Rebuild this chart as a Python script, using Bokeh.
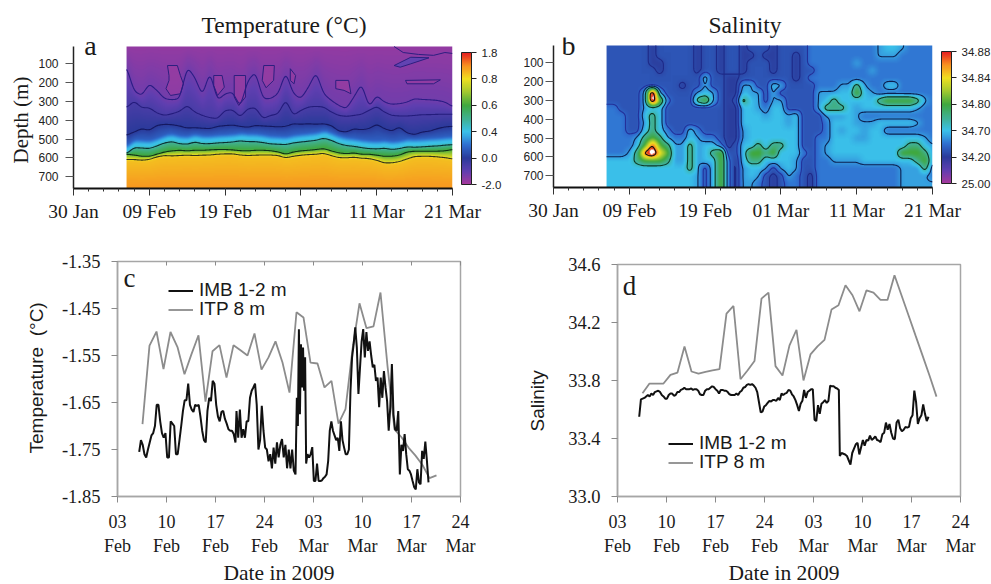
import numpy as np
from bokeh.embed import file_html
from bokeh.resources import INLINE
from bokeh.layouts import column, row
from bokeh.plotting import figure
from bokeh.models import (Range1d, FixedTicker, LinearColorMapper, ColorBar, Label, Legend,
                          LegendItem, LinearAxis, PrintfTickFormatter, Title)

SERIF = "Liberation Serif"
SANS = "Liberation Sans"

# ---------- colour scale (index 0..5, equal spaced in the colour bars)
cbar_pos = [0, .5, 1, 1.5, 2, 2.5, 3, 3.5, 4, 4.5, 5]
cbar_hex = ["#a5399d", "#5f3eb0", "#2a3a9a", "#2f6fd0", "#3ac2ea", "#40b090", "#3fa83f",
            "#a0c830", "#f0e020", "#f89020", "#e62020"]
temp_cbar_labels = ["-2.0", "0.0", "0.4", "0.6", "0.8", "1.8"]
sal_cbar_labels = ["25.00", "34.20", "34.70", "34.80", "34.84", "34.88"]

# ---------- panel a: depth (m) of the temperature contours for each day after 30 Jan (7..50)
iso_days = list(range(7, 51))
iso_1 = [118,245,268,206,241,285,291,285,118,171,268,144,294,259,250,329,188,144,285,285,259,144,259,285,224,144,259,294,321,338,276,206,329,268,303,315,312,303,285,289,291,294,303,326]
iso_2 = [333,298,333,333,361,374,365,352,321,356,374,386,391,347,344,382,338,333,391,374,365,291,374,347,329,326,329,356,374,379,374,368,347,326,356,374,377,377,374,370,370,368,368,368]
iso_3 = [479,462,444,453,427,421,423,430,441,439,442,444,432,428,425,432,437,427,430,432,435,432,418,421,418,421,418,427,457,462,445,450,444,421,444,457,435,467,476,462,457,444,435,432]
iso_4 = [577,545,547,550,536,520,513,524,527,515,524,524,520,518,515,509,513,513,518,525,527,529,520,515,511,506,495,506,524,534,538,545,550,552,548,555,550,541,543,541,538,536,532,529]
iso_5 = [580,584,591,591,580,568,562,559,562,559,559,557,555,555,557,561,562,559,559,561,568,580,568,562,559,555,550,562,573,577,573,580,580,585,591,591,585,568,564,564,564,564,562,555]
iso_6 = [608,608,612,608,594,587,589,587,585,587,585,584,580,578,578,584,587,585,584,584,587,599,591,585,582,580,575,587,598,599,596,601,603,612,626,626,619,605,592,591,591,594,598,605]
pocket_days = [[12.6,12.4,13.7,14.1,14.5,14.1,12.8,12.2,12.6],[18.5,19.6,19.9,19,18.5],[21.2,22.7,22.7,21.8,21.2],
               [25.1,26.5,26.4,25.4,24.9],[28.6,29.3,29.1,28.6],[34.6,36.3,36.6,35.7,34.6],[43.8,48.4,47.5,44],[42.3,44.5,46.9,44.5,43.1]]
pocket_depths = [[162,109,109,162,206,259,268,232,188],[162,162,224,268,215],[162,162,276,321,276],
                 [109,109,188,227,188],[126,162,206,188],[188,188,259,241,232],[188,185,206,206],[109,65,68,100,118]]
top_right_days = [42.3, 43.5, 45.5, 47.5, 49, 50]
top_right_depths = [8, 40, 50, 55, 40, 45]

# ---------- panel b: salinity classes, read cell by cell (rows every 40 m from 20 m; columns 7..50)
sal_rows = [
 "1111110111"+"1101101101"+"1101111222"+"2222223443"+"2222",
 "1111110111"+"1101101100"+"1001101222"+"2222223332"+"2222",
 "1111110011"+"1101101101"+"1101101222"+"2223222222"+"2222",
 "1111111011"+"1101101101"+"1101101122"+"2222232222"+"2222",
 "1111111111"+"1114110011"+"1111101222"+"2222222222"+"2222",
 "1111111111"+"0113110033"+"1143111122"+"2335322442"+"2222",
 "1111139311"+"1134310043"+"3131111133"+"3446432222"+"2222",
 "1111139621"+"1156310154"+"3133111134"+"5444445666"+"6532",
 "2211134411"+"1111110044"+"3244111135"+"5543444444"+"4322",
 "2221145411"+"1111110044"+"4344341113"+"3343222222"+"2222",
 "2221135411"+"1111110044"+"4444341112"+"4443334444"+"4322",
 "2221145421"+"1421110034"+"4444441112"+"4344344222"+"2222",
 "2222356532"+"2432210034"+"4444441122"+"4443344444"+"4432",
 "2222468653"+"3534420144"+"5455441123"+"4444444444"+"5543",
 "2223589763"+"3534561146"+"6564442123"+"4444444446"+"6653",
 "4444566653"+"3534462045"+"5444431122"+"3333444444"+"4563",
 "4444444444"+"4531462034"+"4313431122"+"2222222223"+"3352",
 "4444444444"+"4431462034"+"3101321022"+"2222222223"+"3332",
 "4444444444"+"4431462033"+"2101221022"+"2222222223"+"3333",
]
sal_class_value = [1.05, 1.25, 1.55, 1.8, 1.98, 2.6, 3.1, 4.0, 4.8, 5.6]
sal_depths = list(range(20, 780, 40))

# ---------- panels c and d
tick_days = [0, 7, 14, 21, 28, 35, 42, 49]
tick_names = ["03\nFeb", "10\nFeb", "17\nFeb", "24\nFeb", "03\nMar", "10\nMar", "17\nMar", "24\nMar"]
itp_days = [3.57 + i for i in range(43)]
itp_temp = [-1.696,-1.529,-1.499,-1.579,-1.500,-1.532,-1.590,-1.547,-1.507,-1.648,-1.541,-1.528,-1.597,-1.528,-1.539,-1.550,-1.503,-1.580,-1.554,-1.520,-1.565,-1.629,-1.458,-1.469,-1.565,-1.567,-1.618,-1.604,-1.695,-1.664,-1.537,-1.439,-1.492,-1.488,-1.416,-1.572,-1.707,-1.724,-1.746,-1.763,-1.783,-1.811,-1.805]
itp_sal = [33.712,33.779,33.779,33.779,33.839,33.855,34.035,33.862,33.848,33.860,33.870,33.878,34.261,34.314,33.809,33.869,33.934,34.365,34.406,33.899,33.835,34.042,34.150,33.800,33.980,34.035,34.080,34.289,34.319,34.457,34.388,34.277,34.422,34.406,34.356,34.356,34.526,34.388,34.250,34.111,33.973,33.835,33.689]
imb_temp_a = [-1.755,-1.73,-1.74,-1.76,-1.767,-1.75,-1.735,-1.72,-1.715,-1.70,-1.655,-1.655,-1.69,-1.715,-1.725,-1.715,-1.767,-1.767,-1.69,-1.695,-1.70,-1.76,-1.76,-1.73,-1.70,-1.668,-1.645,-1.645,-1.61,-1.655,-1.665,-1.67,-1.655,-1.657,-1.655,-1.68,-1.71,-1.73,-1.735,-1.668,-1.64,-1.647,-1.604,-1.61,-1.655,-1.68,-1.69,-1.67,-1.668,-1.685,-1.695,-1.707,-1.71,-1.71,-1.717,-1.735]
imb_temp_b = [-1.668,-1.725,-1.665,-1.725,-1.707,-1.725,-1.69,-1.69,-1.64,-1.625,-1.618,-1.61,-1.655,-1.75,-1.73,-1.657,-1.71,-1.746,-1.75,-1.775,-1.76,-1.79,-1.746,-1.78,-1.735,-1.767,-1.74,-1.728,-1.767,-1.74,-1.79,-1.75,-1.79,-1.75,-1.795,-1.803]
imb_temp_c = [-1.64,-1.70,-1.494,-1.675,-1.526,-1.618,-1.533,-1.625,-1.554,-1.78]
imb_temp_d = [-1.76,-1.767,-1.76,-1.745,-1.817,-1.817,-1.78,-1.817,-1.817,-1.816,-1.811,-1.808,-1.803,-1.774,-1.71,-1.69,-1.71,-1.72,-1.73,-1.725,-1.753,-1.69,-1.73,-1.746,-1.76,-1.76,-1.75,-1.625,-1.554,-1.526,-1.49,-1.533,-1.632,-1.575,-1.52,-1.494,-1.554,-1.50,-1.54,-1.52,-1.55,-1.575,-1.57,-1.604,-1.597,-1.66,-1.597,-1.64,-1.583,-1.618,-1.647,-1.71,-1.66,-1.568,-1.675,-1.707,-1.71,-1.668,-1.803,-1.74,-1.753,-1.717,-1.76,-1.792,-1.795,-1.803,-1.817,-1.83,-1.835,-1.792,-1.82,-1.824,-1.753,-1.77,-1.733,-1.774,-1.82]
imb_sal_a = [33.55,33.67,33.675,33.68,33.69,33.70,33.69,33.71,33.70,33.72,33.725,33.73,33.72,33.70,33.69,33.675,33.675,33.70,33.71,33.71,33.695,33.70,33.72,33.72,33.735,33.74,33.75,33.74,33.74,33.74,33.745,33.735,33.74,33.74,33.73,33.705,33.70,33.70,33.73,33.74,33.74,33.75,33.76,33.755,33.74,33.73,33.71,33.735,33.735,33.73,33.73,33.72,33.705,33.70,33.70,33.70,33.71,33.70,33.72,33.73,33.75,33.755,33.77,33.775,33.77,33.775,33.765,33.75,33.72,33.65,33.58,33.585,33.62,33.63,33.645,33.66,33.655,33.665,33.665,33.66,33.68,33.665,33.71,33.70,33.71,33.715,33.735,33.73,33.705,33.69,33.665,33.63,33.59,33.64,33.66,33.735,33.68,33.72,33.73,33.74,33.74,33.53,33.52,33.63,33.57,33.64,33.65,33.665,33.645,33.66,33.765,33.76,33.76,33.75,33.745,33.735]
imb_sal_b = [33.28,33.30,33.295,33.29,33.28,33.25,33.22,33.30,33.33,33.36,33.37,33.29,33.34,33.39,33.35,33.39,33.385,33.42,33.39,33.40,33.415,33.39,33.385,33.375,33.43,33.44,33.51,33.46,33.50,33.44,33.40,33.395,33.51,33.53,33.47,33.45,33.46,33.48,33.475,33.48,33.54,33.56,33.73,33.65,33.50,33.54,33.56,33.635,33.57,33.52,33.55]

# ---------- helpers
def make_palette(n=256):
    rgb = np.array([[int(h[i:i+2], 16) for i in (1, 3, 5)] for h in cbar_hex], float)
    s = np.linspace(0, 5, n)
    return ["#%02x%02x%02x" % tuple(int(round(np.interp(v, cbar_pos, rgb[:, k]))) for k in range(3)) for v in s]

PALETTE = make_palette()

def mapper():
    return LinearColorMapper(palette=PALETTE, low=0, high=5, high_color="#ffffff", low_color=PALETTE[0])

def blur(z, k=5):
    w = np.hanning(k + 2)[1:-1]; w /= w.sum(); pad = k // 2
    z = np.pad(z, pad, mode="edge")
    z = np.apply_along_axis(lambda v: np.convolve(v, w, "same"), 0, z)
    z = np.apply_along_axis(lambda v: np.convolve(v, w, "same"), 1, z)
    return z[pad:-pad, pad:-pad]

def soften(v, k=9):
    w = np.hanning(k + 2)[1:-1]; w /= w.sum(); pad = k // 2
    return np.convolve(np.pad(v, pad, mode="edge"), w, "valid")

X_TICKS = list(range(0, 51, 10))
X_NAMES = ["30 Jan", "09 Feb", "19 Feb", "01 Mar", "11 Mar", "21 Mar"]
DEPTHS = list(range(100, 701, 100))
X0, X1 = 7.0, 50.0
D0, D1 = 8.0, 762.0
PX_PER_M = 142 / 754

def heat_fig(w, left, right, frame_h, bottom, standoff):
    top = 37
    p = figure(width=w, height=228, x_range=Range1d(0, 50),
               y_range=Range1d(D1, D1 - frame_h / PX_PER_M),
               min_border_left=left, min_border_right=right, min_border_top=top, min_border_bottom=bottom,
               toolbar_location=None, output_backend="svg")
    p.grid.visible = False
    p.outline_line_color = None
    ax = p.xaxis[0]
    ax.ticker = FixedTicker(ticks=X_TICKS, minor_ticks=list(range(0, 51, 2)))
    ax.major_label_overrides = dict(zip(X_TICKS, X_NAMES))
    ax.major_label_text_font = SERIF
    ax.major_label_text_font_size = "19.5px"
    ax.major_label_text_color = "#1a1a1a"
    ax.major_label_standoff = 5
    ax.axis_line_width = 2; ax.axis_line_color = "#111111"
    ax.major_tick_out = 7; ax.major_tick_in = 0; ax.minor_tick_out = 3; ax.minor_tick_in = 0
    ax.major_tick_line_color = "#333333"; ax.minor_tick_line_color = "#333333"
    ay = p.yaxis[0]
    ay.bounds = (D0, D1)
    ay.ticker = FixedTicker(ticks=DEPTHS)
    ay.major_label_text_font = SANS
    ay.major_label_text_font_size = "12px"
    ay.major_label_text_color = "#222222"
    ay.major_label_standoff = standoff
    ay.axis_line_width = 1.5; ay.axis_line_color = "#222222"
    ay.major_tick_out = 8; ay.major_tick_in = 0; ay.minor_tick_out = 0; ay.minor_tick_in = 0
    ay.major_tick_line_color = "#555555"
    return p

def add_cbar(p, labels, x, y):
    cb = ColorBar(color_mapper=LinearColorMapper(palette=PALETTE, low=0, high=5), width=10, height=132,
                  location=(x, y), padding=0, margin=0, background_fill_alpha=0,
                  ticker=FixedTicker(ticks=[0, 1, 2, 3, 4, 5]),
                  major_label_overrides=dict(zip([0, 1, 2, 3, 4, 5], labels)),
                  major_label_text_font=SANS, major_label_text_font_size="11.5px", major_label_text_color="#222222",
                  major_tick_in=0, major_tick_out=5, major_tick_line_color="#222222", label_standoff=5,
                  bar_line_color="#222222", bar_line_width=1)
    p.add_layout(cb, "center")

def put(p, text, x, y, font, size, color="#1a1a1a"):
    p.add_layout(Label(x=x, y=y, text=text, text_font=font, text_font_size=size, text_align="center",
                       text_baseline="middle", text_color=color))

def side_title(p, text, side, offset, font, size, standoff=0):
    p.add_layout(Title(text=text, align="left", offset=offset, standoff=standoff, text_font=font, text_line_height=1.0,
                       text_font_size=size, text_font_style="normal", text_color="#1a1a1a"), side)

# ---------- panel a
pa = heat_fig(505, 73, 53, 151, 40, 7)
nx, ny = 330, 142
xg = np.linspace(X0, X1, nx); yg = np.linspace(D0, D1, ny)
lines = [soften(np.interp(xg, iso_days, l)) for l in (iso_1, iso_2, iso_3, iso_4, iso_5, iso_6)]
Ta = np.zeros((ny, nx))
for j in range(nx):
    l1, l2, l3, l4, l5, l6 = [l[j] for l in lines]
    Ta[:, j] = np.interp(yg, [D0, l1, l2, l3, l4 - 45, l4 - 22, l4 - 5, l4, l5, l6 - 2, l6 + 10, D1],
                         [.14, .38, .72, 1.0, 1.35, 1.95, 2.1, 2.4, 3.05, 3.9, 4.2, 4.45])
Ta = blur(Ta, 3)
pa.image(image=[Ta], x=X0, y=D0, dw=X1 - X0, dh=D1 - D0, color_mapper=mapper())
pa.patches(pocket_days[:-1], pocket_depths[:-1], fill_color="#a33c9e", fill_alpha=.55, line_color="#2c1f80", line_width=1)
pa.patches(pocket_days[-1:], pocket_depths[-1:], fill_color="#5a45b5", fill_alpha=.85, line_color="#2c1f80", line_width=1)
pa.line(top_right_days, top_right_depths, line_color="#2c1f80", line_width=1)
for l, c in zip(lines, ("#2a1c85", "#241c7c", "#151860", "#0c3030", "#0e3018", "#33331c")):
    pa.line(xg, l, line_color=c, line_width=1.1)
add_cbar(pa, temp_cbar_labels, 388, 4)
side_title(pa, "Temperature (°C)", "above", 128, SERIF, "23.5px", 0)
put(pa, "a", (90 - 73) / 7.58, 8 - (46 - 45) / PX_PER_M, SERIF, "28px")
side_title(pa, "Depth (m)", "left", 25, SERIF, "21px", 6)

# ---------- panel b
pb = heat_fig(486, 48, 59, 150, 41, 2)
g = np.array([[sal_class_value[int(c)] for c in r] for r in sal_rows])
xb = np.linspace(X0, X1, 327); yb = np.linspace(D0, D1, 142)
tmp = np.array([np.interp(xb, iso_days, row_) for row_ in g])
Sb = np.array([np.interp(yb, sal_depths, tmp[:, j]) for j in range(tmp.shape[1])]).T
Sb = blur(Sb, 7)
pb.image(image=[Sb], x=X0, y=D0, dw=X1 - X0, dh=D1 - D0, color_mapper=mapper())
pb.contour(xb, yb, Sb, levels=[1.15, 1.4, 1.75, 2.35, 4.6],
           fill_color=None, line_color=["#1e2a88", "#23309a", "#0c2050", "#0e3a22", "#111111"], line_width=1.1)
add_cbar(pb, sal_cbar_labels, 388, 4)
side_title(pb, "Salinity", "above", 155, SERIF, "23.5px", 0)
put(pb, "b", (568 - 553) / 7.58, 8 - (44.5 - 44) / PX_PER_M, SERIF, "28px")

# ---------- panels c / d
def line_fig(w, left, right, top, frame_h, y0, y1, yticks, fmt):
    p = figure(width=w, height=356, x_range=Range1d(0, 49), y_range=Range1d(y0, y1),
               min_border_left=left, min_border_right=right, min_border_top=top, min_border_bottom=356 - top - frame_h,
               toolbar_location=None, output_backend="svg")
    p.grid.visible = False
    p.outline_line_color = "#a6a6a6"; p.outline_line_width = 1.5
    ax = p.xaxis[0]
    ax.ticker = FixedTicker(ticks=tick_days)
    ax.major_label_overrides = dict(zip(tick_days, tick_names))
    ax.major_label_text_font = SERIF; ax.major_label_text_font_size = "18px"; ax.major_label_text_color = "#1a1a1a"
    ax.major_label_standoff = 9
    ax.axis_line_color = "#a6a6a6"; ax.axis_line_width = 1.5
    ax.major_tick_out = 6; ax.major_tick_in = 0; ax.minor_tick_out = 0; ax.minor_tick_in = 0
    ax.major_tick_line_color = "#8a8a8a"
    ay = p.yaxis[0]
    ay.ticker = FixedTicker(ticks=yticks)
    ay.formatter = PrintfTickFormatter(format=fmt)
    ay.major_label_text_font = SERIF; ay.major_label_text_font_size = "18.5px"; ay.major_label_text_color = "#1a1a1a"
    ay.major_label_standoff = 11
    ay.axis_line_color = "#a6a6a6"; ay.axis_line_width = 1.5
    ay.major_tick_out = 6; ay.major_tick_in = 0; ay.minor_tick_out = 0; ay.minor_tick_in = 0
    ay.major_tick_line_color = "#8a8a8a"
    return p

def seg(a, b, v):
    return list(np.linspace(a, b, len(v)))

def legend(p, r1, r2, y1, y2):
    for txt, r, y in (("IMB 1-2 m", r1, y1), ("ITP 8 m", r2, y2)):
        p.add_layout(Legend(items=[LegendItem(label=txt, renderers=[r])],
                            location=(51, y), background_fill_alpha=0, border_line_alpha=0, margin=0, padding=0,
                            glyph_width=25, glyph_height=19, label_height=19, label_standoff=6,
                            label_text_font=SANS, label_text_font_size="19px", label_text_color="#1a1a1a"), "center")

pc = line_fig(505, 117, 45, 33, 235, -1.85, -1.35, [-1.85, -1.75, -1.65, -1.55, -1.45, -1.35], "%.2f")
top_axis = LinearAxis(ticker=FixedTicker(ticks=tick_days), major_label_overrides={d: "" for d in tick_days},
                      axis_line_color=None, major_tick_in=4, major_tick_out=0, minor_tick_in=0, minor_tick_out=0,
                      major_tick_line_color="#8a8a8a", major_label_standoff=0, major_label_text_font_size="2px")
pc.add_layout(top_axis, "above")
days_imb_c = seg(3.10, 16.85, imb_temp_a) + seg(17.0, 25.43, imb_temp_b) + seg(25.62, 26.95, imb_temp_c) + seg(27.14, 44.43, imb_temp_d)
r2 = pc.line(itp_days, itp_temp, line_color="#8c8c8c", line_width=1.8)
r1 = pc.line(days_imb_c, imb_temp_a + imb_temp_b + imb_temp_c + imb_temp_d, line_color="#111111", line_width=2.0)
legend(pc, r1, r2, 195, 176)
def cx(px): return (px - 117) / 7.0
def cy(py): return -1.35 - (py - 261) / 235 * .5
put(pc, "c", cx(129), cy(277), SERIF, "27px")
side_title(pc, "Temperature\u00a0\u00a0(°C)", "left", 43, SANS, "19px", 23)
side_title(pc, "Date in 2009", "below", 106, SERIF, "21.5px", 0)

pd_ = line_fig(486, 112, 31, 36, 232, 33.0, 34.6, [33.0, 33.4, 33.8, 34.2, 34.6], "%.1f")
days_imb_d = seg(3.10, 31.62, imb_sal_a) + seg(31.76, 44.43, imb_sal_b)
r4 = pd_.line(itp_days, itp_sal, line_color="#8c8c8c", line_width=1.8)
r3 = pd_.line(days_imb_d, imb_sal_a + imb_sal_b, line_color="#111111", line_width=2.0)
legend(pd_, r3, r4, 42, 23)
def dx(px): return (px - 617) / 7.0
def dy(py): return 34.6 - (py - 264) / 232 * 1.6
put(pd_, "d", dx(629), dy(285), SERIF, "27px")
side_title(pd_, "Salinity", "left", 65, SANS, "19px", 35)
side_title(pd_, "Date in 2009", "below", 111, SERIF, "21.5px", 0)

layout = column(row(column(pa), column(pb), spacing=0), row(column(pc), column(pd_), spacing=0), spacing=0)
open("out.html", "w").write(file_html(layout, INLINE))
